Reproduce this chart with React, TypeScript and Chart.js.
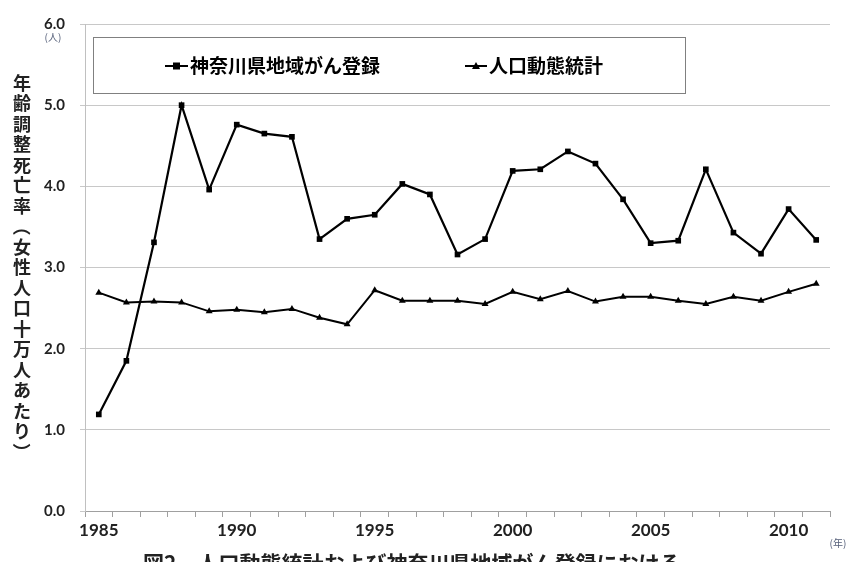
import React, { useEffect, useRef } from "react";
import { Chart, registerables } from "chart.js";

Chart.register(...registerables);

const years = [1985, 1986, 1987, 1988, 1989, 1990, 1991, 1992, 1993, 1994, 1995, 1996, 1997, 1998, 1999, 2000, 2001, 2002, 2003, 2004, 2005, 2006, 2007, 2008, 2009, 2010, 2011];
const registryValues = [1.19, 1.85, 3.31, 5.0, 3.96, 4.76, 4.65, 4.61, 3.35, 3.6, 3.65, 4.03, 3.9, 3.16, 3.35, 4.19, 4.21, 4.43, 4.28, 3.84, 3.3, 3.33, 4.21, 3.43, 3.17, 3.72, 3.34];
const vitalValues = [2.69, 2.57, 2.58, 2.57, 2.46, 2.48, 2.45, 2.49, 2.38, 2.3, 2.72, 2.59, 2.59, 2.59, 2.55, 2.7, 2.61, 2.71, 2.58, 2.64, 2.64, 2.59, 2.55, 2.64, 2.59, 2.7, 2.8];
const seriesNames = ["神奈川県地域がん登録", "人口動態統計"];
const yTitle = ["年", "齢", "調", "整", "死", "亡", "率", "（", "女", "性", "人", "口", "十", "万", "人", "あ", "た", "り", "）"];
const caption = "図2　人口動態統計および神奈川県地域がん登録における";
const yUnit = "(人)";
const xUnit = "(年)";

const JP = '"Noto Sans CJK JP", "Noto Sans", sans-serif';
const NUM = 'Lato, "Open Sans", sans-serif';

const decorPlugin = {
  id: "decor",
  afterDraw(chart: any) {
    const ctx = chart.ctx as CanvasRenderingContext2D;
    ctx.save();
    // legend box
    ctx.strokeStyle = "#808080";
    ctx.lineWidth = 1;
    ctx.fillStyle = "#ffffff";
    ctx.fillRect(93.5, 37.5, 592, 56);
    ctx.strokeRect(93.5, 37.5, 592, 56);
    const items = [
      { x1: 165, x2: 188, style: "rect", text: seriesNames[0] },
      { x1: 465, x2: 487, style: "triangle", text: seriesNames[1] },
    ];
    const ly = 66;
    items.forEach((it) => {
      ctx.strokeStyle = "#000";
      ctx.lineWidth = 2;
      ctx.beginPath();
      ctx.moveTo(it.x1, ly);
      ctx.lineTo(it.x2, ly);
      ctx.stroke();
      const cx = (it.x1 + it.x2) / 2;
      ctx.fillStyle = "#000";
      if (it.style === "rect") {
        ctx.fillRect(cx - 3.5, ly - 3.5, 7, 7);
      } else {
        ctx.beginPath();
        ctx.moveTo(cx, ly - 4);
        ctx.lineTo(cx + 4, ly + 3);
        ctx.lineTo(cx - 4, ly + 3);
        ctx.closePath();
        ctx.fill();
      }
      ctx.font = `bold 19px ${JP}`;
      ctx.textAlign = "left";
      ctx.textBaseline = "middle";
      ctx.fillText(it.text, it.x2 + 2, ly);
    });
    // y title vertical
    ctx.fillStyle = "#222";
    ctx.font = `bold 18px ${JP}`;
    ctx.textAlign = "center";
    ctx.textBaseline = "middle";
    yTitle.forEach((ch, i) => {
      const y = 83 + i * 20.5;
      if (ch === "（" || ch === "）") {
        ctx.save();
        ctx.translate(22, y);
        ctx.rotate(Math.PI / 2);
        ctx.fillText(ch, 0, 0);
        ctx.restore();
      } else {
        ctx.fillText(ch, 22, y);
      }
    });
    // units
    ctx.fillStyle = "#56607a";
    ctx.font = `10px ${JP}`;
    ctx.fillText(yUnit, 53, 37);
    ctx.fillText(xUnit, 838, 543);
    // caption (cut at bottom)
    ctx.fillStyle = "#222";
    ctx.font = `bold 21px ${JP}`;
    ctx.textAlign = "left";
    ctx.textBaseline = "middle";
    ctx.fillText(caption, 143, 563);
    ctx.restore();
  },
};

export default function App() {
  const ref = useRef<HTMLCanvasElement>(null);
  useEffect(() => {
    document.body.style.margin = "0";
    const chart = new Chart(ref.current as HTMLCanvasElement, {
      type: "line",
      data: {
        labels: years.map(String),
        datasets: [
          {
            label: seriesNames[0],
            data: registryValues,
            borderColor: "#000",
            backgroundColor: "#000",
            borderWidth: 2.2,
            pointStyle: "rect",
            pointRadius: 4,
            pointBorderWidth: 0,
            tension: 0,
          },
          {
            label: seriesNames[1],
            data: vitalValues,
            borderColor: "#000",
            backgroundColor: "#000",
            borderWidth: 2,
            pointStyle: "triangle",
            pointRadius: 4,
            pointBorderWidth: 0,
            tension: 0,
          },
        ],
      },
      options: {
        animation: false,
        responsive: true,
        maintainAspectRatio: false,
        layout: { padding: { left: 0, right: 19, top: 24, bottom: 0 } },
        plugins: { legend: { display: false }, tooltip: { enabled: false } },
        scales: {
          x: {
            type: "category",
            offset: true,
            afterFit: (s: any) => {
              s.height = 51;
            },
            grid: {
              display: true,
              drawOnChartArea: false,
              drawTicks: true,
              tickLength: 6,
              color: "#a0a0a0",
              offset: true,
            },
            border: { display: true, color: "#a0a0a0" },
            ticks: {
              autoSkip: false,
              maxRotation: 0,
              padding: 3,
              color: "#222",
              font: { family: NUM, size: 17, weight: "bold" },
              callback: (_v: any, i: number) => (years[i] % 5 === 0 ? String(years[i]) : ""),
            },
          },
          y: {
            min: 0,
            max: 6,
            afterFit: (s: any) => {
              s.width = 85;
            },
            grid: { color: "#c8c8c8", tickLength: 5, drawTicks: true },
            border: { display: true, color: "#c0c0c0" },
            ticks: {
              stepSize: 1,
              padding: 15,
              color: "#222",
              font: { family: NUM, size: 15, weight: "bold" },
              callback: (v: any) => Number(v).toFixed(1),
            },
          },
        },
      },
      plugins: [decorPlugin],
    } as any);
    return () => chart.destroy();
  }, []);
  return (
    <div style={{ width: 849, height: 562, position: "relative" }}>
      <canvas ref={ref} />
    </div>
  );
}
